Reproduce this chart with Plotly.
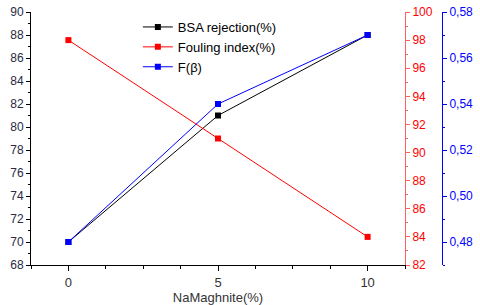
import plotly.graph_objects as go

x_vals = [0, 5, 10]
bsa_rejection = [70, 81, 88]
fouling_index = [98, 91, 84]
f_beta = [0.48, 0.54, 0.57]

FONT = "Liberation Sans, Arial, sans-serif"

fig = go.Figure()
fig.add_trace(go.Scatter(x=x_vals, y=bsa_rejection, name="BSA rejection(%)", mode="lines+markers",
                         line=dict(color="black", width=1), marker=dict(symbol="square", size=6, color="black"),
                         yaxis="y"))
fig.add_trace(go.Scatter(x=x_vals, y=fouling_index, name="Fouling index(%)", mode="lines+markers",
                         line=dict(color="red", width=1), marker=dict(symbol="square", size=6, color="red"),
                         yaxis="y2"))
fig.add_trace(go.Scatter(x=x_vals, y=f_beta, name="F(β)", mode="lines+markers",
                         line=dict(color="blue", width=1), marker=dict(symbol="square", size=6, color="blue"),
                         yaxis="y3"))

fig.update_layout(
    width=480, height=305,
    margin=dict(l=31, r=38, t=12, b=40, autoexpand=False),
    paper_bgcolor="white", plot_bgcolor="white",
    separators=",.",
    font=dict(family=FONT, size=12, color="#333"),
    showlegend=True,
    legend=dict(x=0.26, y=1.0, xanchor="left", yanchor="top", bgcolor="rgba(0,0,0,0)",
                font=dict(size=13, color="black"), itemwidth=30, tracegroupgap=0),
    xaxis=dict(domain=[0, 0.91], range=[-1.25, 11.25], tickvals=[0, 5, 10], showgrid=False, zeroline=False,
               automargin=False,
               showline=True, linecolor="black", linewidth=1, ticks="outside", ticklen=5, tickcolor="black",
               minor=dict(dtick=1.25, tick0=0, ticks="outside", ticklen=3, tickcolor="black"),
               title=dict(text="NaMaghnite(%)", font=dict(size=13, color="#333"), standoff=0),
               tickfont=dict(size=13, color="#333")),
    yaxis=dict(range=[68, 90], dtick=2, showgrid=False, zeroline=False, showline=True, linecolor="black",
               automargin=False,
               linewidth=1, ticks="outside", ticklen=4, tickcolor="black",
               minor=dict(dtick=1, ticks="outside", ticklen=2, tickcolor="black"),
               tickfont=dict(size=12, color="#2a2a44")),
    yaxis2=dict(range=[82, 100], dtick=2, overlaying="y", side="right", anchor="x", showgrid=False,
                automargin=False,
                zeroline=False, showline=True, linecolor="#ff6060", linewidth=1, ticks="outside", ticklen=4,
                tickcolor="#ff6060", minor=dict(dtick=1, ticks="outside", ticklen=2, tickcolor="#ff6060"),
                tickfont=dict(size=12, color="red")),
    yaxis3=dict(range=[0.47, 0.58], dtick=0.02, tick0=0.48, tickformat=".2f", overlaying="y", side="right",
                automargin=False,
                anchor="free", position=1.0, showgrid=False, zeroline=False, showline=True, linecolor="blue",
                linewidth=1, ticks="outside", ticklen=4, tickcolor="blue",
                minor=dict(dtick=0.01, ticks="outside", ticklen=2, tickcolor="blue"),
                tickfont=dict(size=12, color="blue")),
)

# remove the browser's default 8px body margin so the figure fills the window exactly
fig.write_html("out.html", config={"displayModeBar": False},
               post_script="document.body.style.margin='0';")
